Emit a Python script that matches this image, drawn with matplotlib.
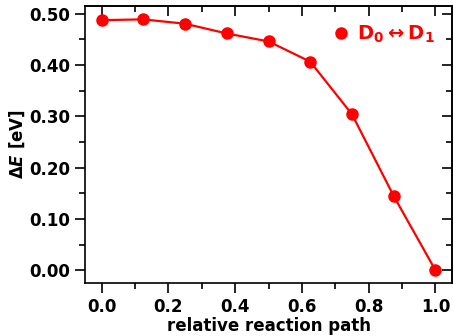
import matplotlib
matplotlib.use('Agg')
import matplotlib.pyplot as plt
from matplotlib.ticker import MultipleLocator

# data
path = [0.0, 0.125, 0.25, 0.375, 0.5, 0.625, 0.75, 0.875, 1.0]
delta_e = [0.4875, 0.489, 0.4805, 0.4615, 0.446, 0.4065, 0.304, 0.1447, 0.0]
series_label = r'D$_0 \leftrightarrow$D$_1$'

plt.rcParams['font.family'] = 'DejaVu Sans'
plt.rcParams['font.weight'] = 'bold'
plt.rcParams['mathtext.fontset'] = 'custom'
plt.rcParams['mathtext.rm'] = 'DejaVu Sans:bold'
plt.rcParams['mathtext.bf'] = 'DejaVu Sans:bold'
plt.rcParams['mathtext.it'] = 'DejaVu Sans:bold:italic'
plt.rcParams['mathtext.default'] = 'rm'

fig = plt.figure(figsize=(4.53, 3.36), dpi=100)
ax = fig.add_axes([0.1876, 0.1577, 0.8104, 0.8243])

ax.plot(path, delta_e, color='red', lw=1.6)
ax.plot(path, delta_e, color='red', ls='none', marker='o', ms=8, label=series_label)

ax.set_xlim(-0.05, 1.05)
ax.set_ylim(-0.025, 0.515)
ax.xaxis.set_major_locator(MultipleLocator(0.2))
ax.xaxis.set_minor_locator(MultipleLocator(0.1))
ax.yaxis.set_major_locator(MultipleLocator(0.1))
ax.yaxis.set_minor_locator(MultipleLocator(0.05))
ax.yaxis.set_major_formatter(plt.FormatStrFormatter('%.2f'))
ax.xaxis.set_major_formatter(plt.FormatStrFormatter('%.1f'))

for s in ax.spines.values():
    s.set_linewidth(1.2)
ax.tick_params(which='both', direction='out', width=1.2, labelsize=12)
ax.tick_params(which='major', length=7)
ax.tick_params(which='minor', length=4)
# inward ticks on top and right
ax2 = ax.secondary_xaxis('top')
ax2.xaxis.set_major_locator(MultipleLocator(0.2))
ax2.xaxis.set_minor_locator(MultipleLocator(0.1))
ax2.tick_params(which='both', direction='in', width=1.2, labeltop=False)
ax2.tick_params(which='major', length=7)
ax2.tick_params(which='minor', length=4)
ax2.spines['top'].set_linewidth(1.2)
ax3 = ax.secondary_yaxis('right')
ax3.yaxis.set_major_locator(MultipleLocator(0.1))
ax3.yaxis.set_minor_locator(MultipleLocator(0.05))
ax3.tick_params(which='both', direction='in', width=1.2, labelright=False)
ax3.tick_params(which='major', length=7)
ax3.tick_params(which='minor', length=4)
ax3.spines['right'].set_linewidth(1.2)

ax.set_xlabel('relative reaction path', fontsize=12, fontweight='bold', labelpad=1)
ax.set_ylabel(r'$\Delta \mathit{E}$ [eV]', fontsize=12, fontweight='bold', labelpad=2)

leg = ax.legend(loc='upper right', frameon=False, fontsize=14, handlelength=0.6,
                handletextpad=0.5, numpoints=1, borderaxespad=0.5)
for t in leg.get_texts():
    t.set_color('red')

fig.savefig('out.png', dpi=100)
